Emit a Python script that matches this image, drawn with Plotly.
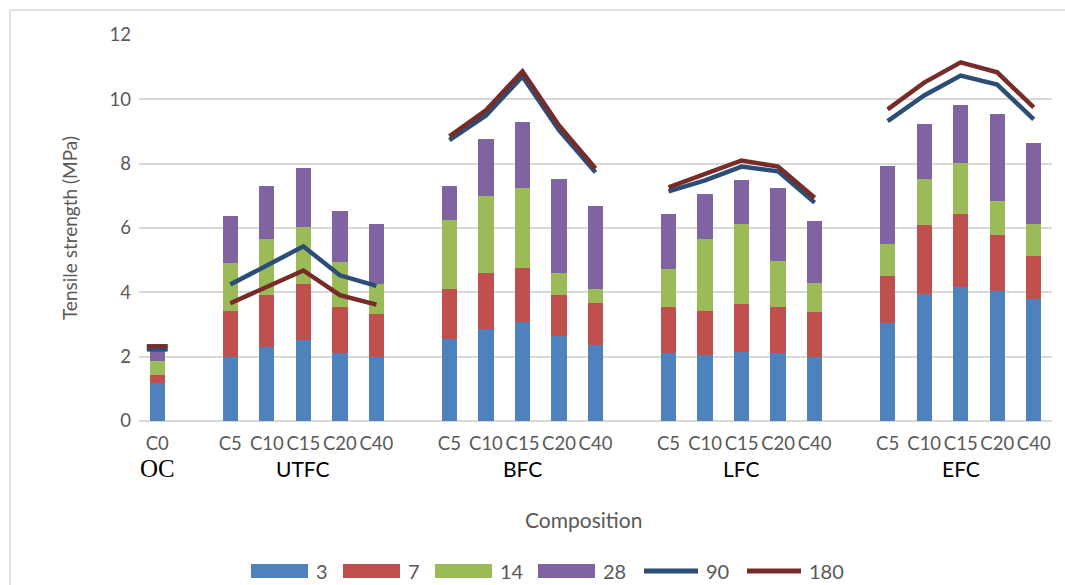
import plotly.graph_objects as go

# Composition groups and the mixes inside each one
groups = ["OC", "UTFC", "BFC", "LFC", "EFC"]
mixes = [["C0"],
         ["C5", "C10", "C15", "C20", "C40"],
         ["C5", "C10", "C15", "C20", "C40"],
         ["C5", "C10", "C15", "C20", "C40"],
         ["C5", "C10", "C15", "C20", "C40"]]

# Stacked column increments (MPa) per curing age, in mix order
age_3 = [1.17,
         1.98, 2.29, 2.51, 2.10, 1.98,
         2.54, 2.85, 3.07, 2.63, 2.35,
         2.10, 2.04, 2.16, 2.10, 1.98,
         3.04, 3.94, 4.16, 4.03, 3.78]
age_7 = [0.26,
         1.43, 1.62, 1.74, 1.43, 1.34,
         1.56, 1.74, 1.68, 1.28, 1.31,
         1.43, 1.37, 1.47, 1.43, 1.40,
         1.46, 2.14, 2.26, 1.74, 1.34]
age_14 = [0.43,
          1.49, 1.74, 1.77, 1.40, 0.93,
          2.14, 2.39, 2.48, 0.68, 0.44,
          1.19, 2.24, 2.48, 1.43, 0.90,
          0.99, 1.43, 1.59, 1.06, 1.02]
age_28 = [0.32,
          1.46, 1.65, 1.84, 1.59, 1.89,
          1.06, 1.78, 2.06, 2.92, 2.57,
          1.71, 1.40, 1.37, 2.27, 1.93,
          2.43, 1.71, 1.80, 2.70, 2.49]

# Long-term strengths (MPa), drawn as lines
age_90 = [2.22,
          4.24, 4.84, 5.43, 4.53, 4.20,
          8.73, 9.50, 10.71, 9.04, 7.73,
          7.14, 7.48, 7.91, 7.76, 6.79,
          9.32, 10.12, 10.74, 10.46, 9.38]
age_180 = [2.33,
           3.66, 4.17, 4.68, 3.91, 3.62,
           8.85, 9.66, 10.87, 9.19, 7.85,
           7.26, 7.69, 8.10, 7.91, 6.94,
           9.69, 10.52, 11.15, 10.84, 9.75]

# Slot positions: one empty slot between consecutive groups
positions, labels, group_of, group_centres = [], [], [], []
slot = 0
for gi, members in enumerate(mixes):
    if gi > 0:
        slot += 1
    start = slot
    for m in members:
        positions.append(slot)
        labels.append(m)
        group_of.append(gi)
        slot += 1
    group_centres.append((start + slot - 1) / 2)
n_slots = slot

bar_names = ["3", "7", "14", "28"]
bar_colors = ["#4F81BD", "#C0504D", "#9BBB59", "#8064A2"]
line_names = ["90", "180"]
line_colors = ["#2C4D75", "#772C2A"]

W, H = 1065, 585
ML, MR, MT, MB = 139, 13, 35, 164
PW, PH = W - ML - MR, H - MT - MB


def px_x(px):
    return (px - ML) / PW


def px_y(py):
    return (H - MB - py) / PH


SANS = "Lato, 'Open Sans', sans-serif"
GREY = "#595959"

fig = go.Figure()
for name, vals, col in zip(bar_names, [age_3, age_7, age_14, age_28], bar_colors):
    fig.add_trace(go.Bar(x=positions, y=vals, name=name, marker_color=col,
                         marker_line_width=0, width=0.42, showlegend=False))


def split_by_group(values):
    xs, ys = [], []
    for i, (p, v) in enumerate(zip(positions, values)):
        if i > 0 and group_of[i] != group_of[i - 1]:
            xs.append(None)
            ys.append(None)
        xs.append(p)
        ys.append(v)
    return xs, ys


single = [i for i, g in enumerate(group_of) if len(mixes[g]) == 1]
for name, vals, col in zip(line_names, [age_90, age_180], line_colors):
    xs, ys = split_by_group(vals)
    fig.add_trace(go.Scatter(x=xs, y=ys, name=name, mode="lines",
                             line=dict(color=col, width=4.5),
                             connectgaps=False, showlegend=False))
    # single-mix groups get a short dash instead of a line
    fig.add_trace(go.Scatter(x=[positions[i] for i in single],
                             y=[vals[i] for i in single], mode="markers",
                             showlegend=False, hoverinfo="skip",
                             marker=dict(symbol="line-ew", size=15,
                                         line=dict(color=col, width=4))))

tick_font = dict(family=SANS, size=18.5, color=GREY)

fig.update_layout(
    barmode="stack",
    width=W, height=H,
    margin=dict(l=ML, r=MR, t=MT, b=MB),
    paper_bgcolor="white", plot_bgcolor="white",
    font=tick_font,
    showlegend=False,
    xaxis=dict(range=[-0.5, n_slots - 0.5], tickmode="array",
               tickvals=positions, ticktext=labels, showgrid=False,
               zeroline=False, showline=False, ticks="", ticklabelstandoff=9,
               tickangle=0, tickfont=tick_font),
    yaxis=dict(range=[0, 12], dtick=2, showgrid=True, gridcolor="#D9D9D9",
               gridwidth=1.5, zeroline=True, zerolinecolor="#D9D9D9",
               zerolinewidth=1.5, showline=False, ticks="", ticklabelstandoff=7,
               tickfont=tick_font,
               title=dict(text="Tensile strength (MPa)", standoff=26,
                          font=dict(family=SANS, size=19, color=GREY))),
)

# group names under the mix labels
for g, cx in zip(groups, group_centres):
    if g == "OC":
        fnt = dict(family="Liberation Serif, 'Times New Roman', serif", size=25, color="black")
    else:
        fnt = dict(family=SANS, size=21, color="black")
    fig.add_annotation(x=cx, y=px_y(468), xref="x", yref="paper", text=g,
                       showarrow=False, yanchor="middle", font=fnt)

fig.add_annotation(x=px_x(583), y=px_y(519), xref="paper", yref="paper",
                   text="Composition", showarrow=False, yanchor="middle",
                   font=dict(family=SANS, size=21, color=GREY))

# legend row: column swatches, then line swatches
legend_names = bar_names + line_names
legend_colors = bar_colors + line_colors
lx = 251
ly = 571
for k, (name, col) in enumerate(zip(legend_names, legend_colors)):
    if k < len(bar_names):
        fig.add_shape(type="rect", xref="paper", yref="paper",
                      x0=px_x(lx), x1=px_x(lx + 57), y0=px_y(564), y1=px_y(578),
                      fillcolor=col, line=dict(width=0))
    else:
        fig.add_shape(type="line", xref="paper", yref="paper",
                      x0=px_x(lx + 3), x1=px_x(lx + 57), y0=px_y(ly), y1=px_y(ly),
                      line=dict(color=col, width=5))
    fig.add_annotation(x=px_x(lx + 63), y=px_y(ly), xref="paper", yref="paper",
                       text=name, showarrow=False, xanchor="left", yanchor="middle",
                       font=dict(family=SANS, size=20, color=GREY))
    lx += 57 + 7 + 11 * len(name) + 17

# chart-area frame (top and left edges visible)
fig.add_shape(type="line", xref="paper", yref="paper",
              x0=px_x(10), x1=px_x(1065), y0=px_y(10), y1=px_y(10),
              line=dict(color="#D9D9D9", width=1.5))
fig.add_shape(type="line", xref="paper", yref="paper",
              x0=px_x(10), x1=px_x(10), y0=px_y(10), y1=px_y(585),
              line=dict(color="#D9D9D9", width=1.5))

fig.write_html("out.html")
